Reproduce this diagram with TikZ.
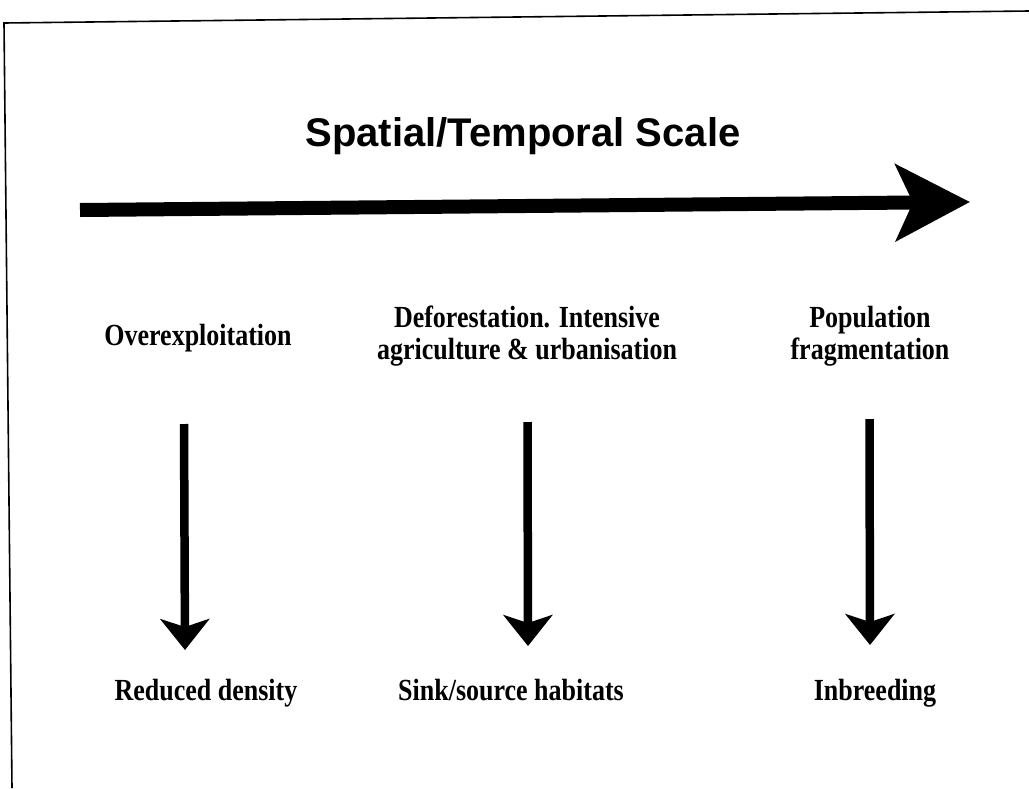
\documentclass[tikz,border=0pt]{standalone}
\usepackage{fontspec}
\setmainfont{Liberation Serif}
\newfontfamily\titlefont{Liberation Sans}
\usetikzlibrary{arrows.meta}
\begin{document}
\begin{tikzpicture}[x=1pt,y=-1pt,
  frame/.style={line width=1.6pt},
  bigarrow/.style={line width=14pt,-{Stealth[length=74pt,width=76pt,inset=17pt]}},
  downarrow/.style={line width=8.5pt,-{Stealth[length=31pt,width=49pt,inset=8pt]}},
  lbl/.style={font=\fontsize{26}{27}\selectfont\bfseries,align=center,inner sep=0pt,yscale=1.18,transform shape},
  title/.style={font=\titlefont\fontsize{40}{46}\selectfont\bfseries,inner sep=0pt}]
\useasboundingbox (0,0) rectangle (1029,788);
\fill[white] (0,0) rectangle (1029,788);
% frame
\coordinate (ftl) at (4,23);
\coordinate (ftr) at (1029,11);
\coordinate (fbl) at (12,788);
\draw[frame] (ftr) -- (ftl) -- (fbl);
% title
\node[title,anchor=base] (t) at (523,146) {Spatial/Temporal Scale};
% big arrow
\coordinate (hs) at (80,210);
\coordinate (he) at (970,202);
\draw[bigarrow] (hs) -- (he);
% labels top
\node[lbl,anchor=base] (a1) at (198,345) {Overexploitation};
\node[lbl] (b1) at (527,336) {Deforestation. Intensive\\agriculture \& urbanisation};
\node[lbl] (c1) at (870,336) {Population\\fragmentation};
% labels bottom
\node[lbl,anchor=base] (a2) at (206,700) {Reduced density};
\node[lbl,anchor=base] (b2) at (511,700) {Sink/source habitats};
\node[lbl,anchor=base] (c2) at (875,700) {Inbreeding};
% vertical arrows
\coordinate (as) at (184,424); \coordinate (ae) at (185,650);
\coordinate (bs) at (527.5,422); \coordinate (be) at (528,646);
\coordinate (cs) at (869.5,419); \coordinate (ce) at (870,645);
\draw[downarrow] (as) -- (ae);
\draw[downarrow] (bs) -- (be);
\draw[downarrow] (cs) -- (ce);
\end{tikzpicture}
\end{document}
